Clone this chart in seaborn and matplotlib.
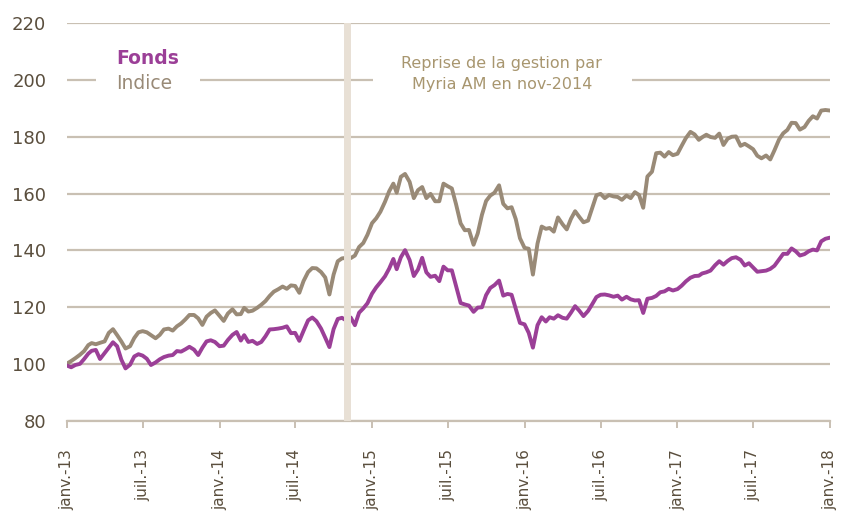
import matplotlib
matplotlib.use("Agg")
import matplotlib.pyplot as plt
from matplotlib.patches import Rectangle
import numpy as np
import pandas as pd
import seaborn as sns

# ---- data: values on the 1st, 11th and 21st of each month, Jan 2013 -> Jan 2018 ----
dates = [pd.Timestamp(2013 + m // 12, m % 12 + 1, d) for m in range(60) for d in (1, 11, 21)]
dates.append(pd.Timestamp(2018, 1, 1))

fonds = [
    99.5, 98.9, 99.7, 100.1, 101.8, 103.7, 104.7, 105.0, 101.8, 103.9,
    105.8, 107.7, 106.3, 101.6, 98.5, 99.8, 102.7, 103.5, 103.0, 101.9,
    99.7, 100.6, 101.7, 102.5, 103.0, 103.2, 104.6, 104.4, 105.2, 106.1,
    105.1, 103.2, 105.8, 108.0, 108.4, 107.8, 106.3, 106.5, 108.5, 110.3,
    111.3, 108.3, 110.2, 107.8, 108.2, 107.1, 107.8, 109.8, 112.2, 112.3,
    112.5, 112.8, 113.3, 110.9, 111.0, 108.2, 111.7, 115.4, 116.4, 115.1,
    112.5, 109.3, 106.0, 112.3, 115.9, 116.3, 115.3, 116.4, 113.7, 118.1,
    119.6, 121.4, 124.8, 127.0, 128.8, 130.9, 133.6, 137.0, 133.4, 137.6,
    140.1, 136.6, 131.0, 133.3, 137.4, 132.3, 130.7, 131.1, 129.2, 134.3,
    133.0, 133.0, 127.5, 121.5, 121.0, 120.6, 118.4, 119.9, 120.0, 124.3,
    126.8, 127.8, 129.4, 124.1, 124.7, 124.4, 119.4, 114.5, 114.0, 111.0,
    105.8, 113.7, 116.5, 115.0, 116.5, 116.0, 117.2, 116.3, 116.0, 118.1,
    120.4, 118.8, 116.9, 118.7, 121.1, 123.6, 124.4, 124.5, 124.2, 123.7,
    124.1, 122.7, 123.7, 122.8, 122.4, 122.5, 118.0, 123.0, 123.3, 124.0,
    125.3, 125.6, 126.5, 125.9, 126.4, 127.6, 129.1, 130.4, 131.0, 131.1,
    131.9, 132.3, 132.9, 134.8, 136.2, 135.0, 136.3, 137.3, 137.6, 136.7,
    134.7, 135.5, 134.0, 132.5, 132.7, 132.9, 133.5, 134.6, 136.8, 138.8,
    138.8, 140.7, 139.7, 138.2, 138.7, 139.7, 140.3, 140.0, 143.2, 144.1,
    144.5,
]

indice = [
    100.2, 101.1, 102.1, 103.3, 104.6, 106.7, 107.4, 107.0, 107.5, 108.0,
    111.0, 112.3, 110.2, 108.0, 105.5, 106.3, 109.2, 111.2, 111.6, 111.2,
    110.2, 109.1, 110.3, 112.2, 112.5, 111.8, 113.3, 114.3, 115.7, 117.3,
    117.3, 116.1, 113.8, 116.7, 118.0, 118.9, 117.0, 115.2, 117.8, 119.3,
    117.5, 117.6, 119.8, 118.5, 118.8, 119.8, 120.9, 122.2, 124.0, 125.5,
    126.3, 127.3, 126.5, 127.7, 127.5, 125.1, 129.2, 132.4, 133.8, 133.7,
    132.4, 130.5, 124.5, 131.5, 136.2, 137.2, 137.4, 137.3, 138.2, 141.2,
    142.6, 145.5, 149.6, 151.3, 153.6, 157.1, 160.8, 163.5, 160.3, 165.9,
    166.9, 164.1, 158.4, 161.2, 162.3, 158.4, 159.9, 157.3, 157.3, 163.5,
    162.6, 161.8, 156.3, 149.5, 147.1, 147.2, 142.0, 146.0, 152.5, 157.4,
    159.3, 160.3, 162.9, 156.4, 154.8, 155.2, 151.0, 144.3, 140.9, 140.6,
    131.5, 142.4, 148.4, 147.6, 147.9, 146.6, 151.6, 149.2, 147.4, 151.1,
    153.8, 151.8, 149.9, 150.5, 155.0, 159.4, 159.9, 158.4, 159.5, 159.0,
    158.8, 157.8, 159.3, 158.4, 160.5, 159.5, 155.0, 166.0, 167.7, 174.2,
    174.4, 173.0, 174.6, 173.5, 174.0, 176.8, 179.5, 181.7, 180.8, 178.9,
    179.8, 180.7, 179.9, 179.6, 181.1, 177.1, 179.3, 180.0, 180.1, 176.8,
    177.5, 176.6, 175.6, 173.3, 172.4, 173.4, 172.0, 175.2, 179.0, 181.2,
    182.4, 184.9, 184.8, 182.5, 183.4, 185.6, 187.2, 186.4, 189.2, 189.4,
    189.2,
]

series_names = ["Fonds", "Indice"]
tick_dates = pd.date_range("2013-01-01", "2018-01-01", freq="6MS")
tick_labels = ["janv.-13", "juil.-13", "janv.-14", "juil.-14", "janv.-15", "juil.-15",
               "janv.-16", "juil.-16", "janv.-17", "juil.-17", "janv.-18"]
y_ticks = [80, 100, 120, 140, 160, 180, 200, 220]
takeover_date = pd.Timestamp("2014-11-01")
note = "Reprise de la gestion par\nMyria AM en nov-2014"

# ---- styling ----
FONDS_C = "#9b3f97"
INDICE_C = "#998a77"
GRID_C = "#c9c0b3"
BAND_C = "#e8e0d5"
LABEL_C = "#5a4e3d"
NOTE_C = "#a8966f"

sns.set_theme(style="white")
plt.rcParams["font.family"] = ["DejaVu Sans"]

df = pd.DataFrame({
    "date": dates * 2,
    "value": fonds + indice,
    "serie": [series_names[0]] * len(fonds) + [series_names[1]] * len(indice),
})

fig = plt.figure(figsize=(8.41, 5.13), dpi=100)
ax = fig.add_axes([67 / 841, 1 - 421 / 513, 763 / 841, 398 / 513])

sns.lineplot(data=df, x="date", y="value", hue="serie", hue_order=series_names[::-1],
             palette={series_names[0]: FONDS_C, series_names[1]: INDICE_C},
             linewidth=2.8, legend=False, ax=ax, zorder=3)

ax.set_xlim(tick_dates[0], tick_dates[-1])
ax.set_ylim(y_ticks[0], y_ticks[-1])
ax.set_yticks(y_ticks)
ax.set_xticks(tick_dates)
ax.set_xticklabels(tick_labels, rotation=90, va="top", ha="center")
ax.set_xlabel("")
ax.set_ylabel("")

ax.grid(axis="y", color=GRID_C, linewidth=1.6)
ax.grid(axis="x", visible=False)
ax.set_axisbelow(True)
for side in ("top", "right", "left"):
    ax.spines[side].set_visible(False)
ax.spines["bottom"].set_color(GRID_C)
ax.spines["bottom"].set_linewidth(1.6)

ax.tick_params(axis="y", length=0, pad=15, labelsize=13, labelcolor=LABEL_C)
ax.tick_params(axis="x", bottom=True, length=5, width=1.4, color=GRID_C, pad=15,
               labelsize=11, labelcolor=LABEL_C)

# takeover marker band, drawn over the curves
ax.axvline(takeover_date, color=BAND_C, linewidth=5, zorder=4, ymin=-0.005, ymax=1)

# white patches that break the 200 gridline behind the texts
ax.add_patch(Rectangle((0.038, 0.818), 0.136, 0.06, transform=ax.transAxes,
                       facecolor="white", edgecolor="none", zorder=1))
ax.add_patch(Rectangle((0.401, 0.818), 0.340, 0.06, transform=ax.transAxes,
                       facecolor="white", edgecolor="none", zorder=1))

ax.text(0.064, 0.912, series_names[0], transform=ax.transAxes, color=FONDS_C,
        fontsize=13.5, fontweight="bold", ha="left", va="center", zorder=5)
ax.text(0.064, 0.847, series_names[1], transform=ax.transAxes, color=INDICE_C,
        fontsize=13.5, ha="left", va="center", zorder=5)
ax.text(0.570, 0.873, note, transform=ax.transAxes, color=NOTE_C,
        fontsize=11.5, ha="center", va="center", linespacing=1.5, zorder=5)

fig.savefig("out.png", dpi=100)
